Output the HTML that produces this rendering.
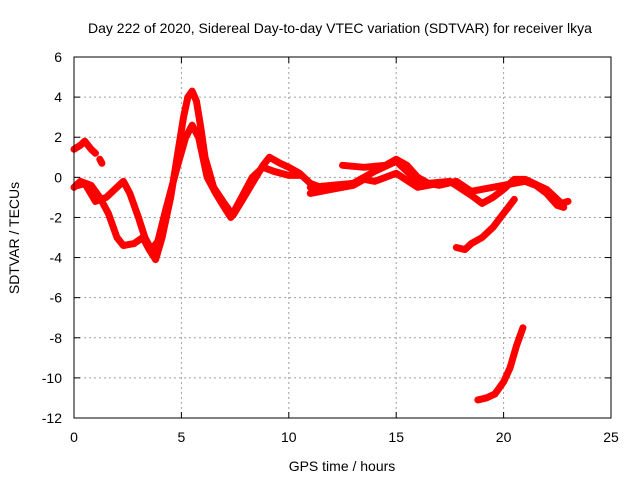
<!DOCTYPE html>
<html><head><meta charset="utf-8"><style>
body{margin:0;background:#fff;}
svg text{font-family:"Liberation Sans",sans-serif;font-size:14px;fill:#000;}
</style></head><body>
<svg id="chart" width="640" height="480" viewBox="0 0 640 480" xmlns="http://www.w3.org/2000/svg">
<text x="340" y="33" text-anchor="middle">Day 222 of 2020, Sidereal Day-to-day VTEC variation (SDTVAR) for receiver lkya</text>
<g id="grid"></g>
<g id="series"></g>
<rect x="74" y="57" width="537" height="361" fill="none" stroke="#000" stroke-width="1"/>
<g id="axes"></g>
<text x="342" y="471" text-anchor="middle">GPS time / hours</text>
<text transform="translate(19,238) rotate(-90)" text-anchor="middle">SDTVAR / TECUs</text>
</svg>
<script>
const xTicks=[0,5,10,15,20,25];
const yTicks=[6,4,2,0,-2,-4,-6,-8,-10,-12];
const traceC=[[0,1.4],[0.3,1.6],[0.5,1.8],[0.8,1.4],[1.0,1.2]];
const traceC2=[[1.2,0.9],[1.3,0.7]];
const traceA=[[0,-0.5],[0.3,-0.2],[0.8,-0.4],[1.2,-1],[1.6,-1.8],[2.0,-3.0],[2.3,-3.4],[2.8,-3.3],[3.2,-3.0],[3.5,-3.6],[3.8,-4.1],[4.1,-3.0],[4.5,-1.0],[4.8,1.0],[5.1,3.0],[5.3,4.0],[5.5,4.3],[5.7,3.8],[5.9,2.5],[6.1,1.0],[6.5,-0.5],[7.0,-1.3],[7.4,-1.9],[7.8,-1.2],[8.3,-0.3],[8.8,0.6],[9.1,1.0],[9.6,0.7],[10,0.5],[10.5,0.2],[11,-0.3],[11.5,-0.5]];
const traceB=[[0.2,-0.4],[0.5,-0.3],[1.0,-1.2],[1.5,-1.0],[2.0,-0.5],[2.3,-0.2],[2.6,-0.8],[3.0,-2.0],[3.3,-3.0],[3.6,-3.6],[3.9,-3.2],[4.3,-1.5],[4.8,0.5],[5.2,2.0],[5.5,2.6],[5.8,2.0],[6.2,0.0],[6.6,-0.8],[7.0,-1.5],[7.3,-2.0],[7.8,-1.0],[8.3,0.0],[8.8,0.5],[9.3,0.3],[10,0.1],[10.5,0.1]];
const traceM1=[[11,-0.5],[12,-0.4],[13,-0.3],[14,0.3],[15,0.8],[15.5,0.3],[16,-0.2],[17,-0.4],[17.8,-0.2],[18.5,-0.7],[19,-0.6],[20,-0.4],[20.5,-0.3],[21,-0.2],[21.5,-0.4],[22,-0.8],[22.5,-1.4],[22.8,-1.5]];
const traceM2=[[12.5,0.6],[13.5,0.5],[14.5,0.6],[15,0.9],[15.5,0.6],[16,0.0],[16.5,-0.3],[17.5,-0.2],[18.5,-0.9],[19,-1.3],[19.5,-1.0],[20,-0.6],[20.5,-0.1],[21,-0.1],[22,-0.6],[22.7,-1.3],[23,-1.2]];
const traceM3=[[11,-0.8],[12,-0.6],[13,-0.4],[13.5,-0.1],[14,-0.2],[15,0.2],[16,-0.5],[17,-0.3]];
const traceD=[[17.8,-3.5],[18.2,-3.6],[18.5,-3.3],[19,-3.0],[19.5,-2.5],[20,-1.8],[20.5,-1.1]];
const traceE=[[18.8,-11.1],[19.2,-11.0],[19.6,-10.8],[20,-10.2],[20.3,-9.5],[20.6,-8.4],[20.9,-7.5]];
const NS="http://www.w3.org/2000/svg";
const X=v=>74+v*537/25;
const Y=v=>57+(6-v)*361/18;
function mk(t,a,p){const e=document.createElementNS(NS,t);for(const k in a)e.setAttribute(k,a[k]);p.appendChild(e);return e;}
const grid=document.getElementById('grid'),axes=document.getElementById('axes'),ser=document.getElementById('series');
xTicks.forEach(v=>{
 if(v>0&&v<25){const l=mk('line',{x1:X(v),x2:X(v),y1:57,y2:418,stroke:'#a0a0a0','stroke-dasharray':'2,3'},grid);}
 const t=mk('text',{x:X(v),y:442,'text-anchor':'middle'},axes);t.textContent=v;
 
 mk('line',{x1:X(v),x2:X(v),y1:418,y2:412,stroke:'#000'},axes);mk('line',{x1:X(v),x2:X(v),y1:57,y2:63,stroke:'#000'},axes);
});
yTicks.forEach(v=>{
 if(v<6&&v>-12){const l=mk('line',{x1:74,x2:611,y1:Y(v),y2:Y(v),stroke:'#a0a0a0','stroke-dasharray':'2,3'},grid);}
 const t=mk('text',{x:62,y:Y(v)+5,'text-anchor':'end'},axes);t.textContent=v;
 
 mk('line',{x1:74,x2:80,y1:Y(v),y2:Y(v),stroke:'#000'},axes);mk('line',{x1:605,x2:611,y1:Y(v),y2:Y(v),stroke:'#000'},axes);
});
[traceC,traceC2,traceA,traceB,traceM1,traceM2,traceM3,traceD,traceE].forEach(tr=>{
 const p=mk('polyline',{points:tr.map(d=>X(d[0])+','+Y(d[1])).join(' '),fill:'none',stroke:'#ff0000','stroke-width':7,'stroke-linejoin':'round','stroke-linecap':'round'},ser);
 
 
});
</script>
</body></html>
